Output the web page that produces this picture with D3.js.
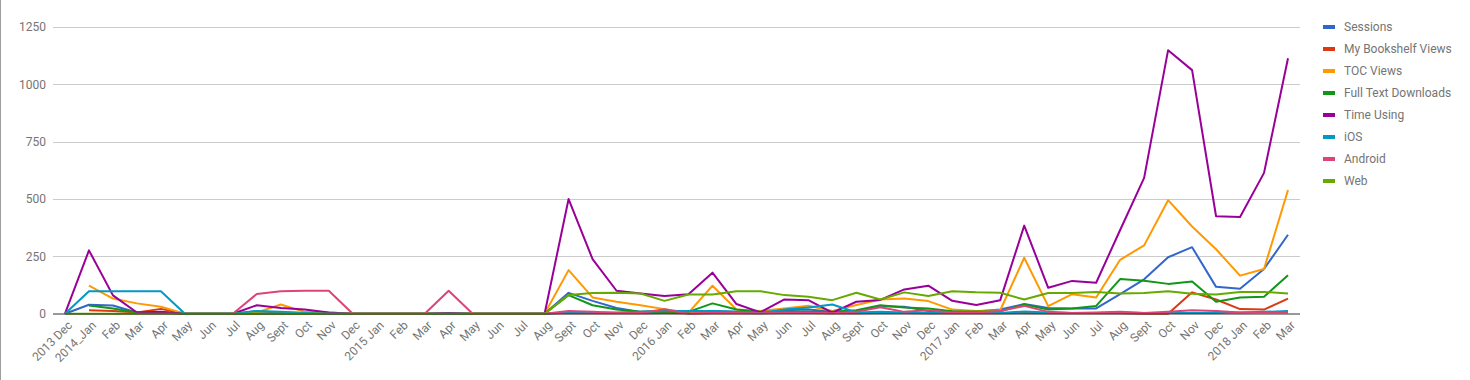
<!DOCTYPE html>
<html><head><meta charset="utf-8">
<script src="https://cdn.jsdelivr.net/npm/d3@7"></script>
<style>
html,body{margin:0;padding:0;background:#fff;}
svg{display:block;font-family:Roboto,Arial,sans-serif;}
</style></head>
<body><svg id="c" width="1470" height="380"></svg>
<script>
const categories = ["2013 Dec","2014_Jan","Feb","Mar","Apr","May","Jun","Jul","Aug","Sept","Oct","Nov","Dec",
"2015 Jan","Feb","Mar","Apr","May","Jun","Jul","Aug","Sept","Oct","Nov","Dec",
"2016 Jan","Feb","Mar","Apr","May","Jun","Jul","Aug","Sept","Oct","Nov","Dec",
"2017 Jan","Feb","Mar","Apr","May","Jun","Jul","Aug","Sept","Oct","Nov","Dec",
"2018 Jan","Feb","Mar"];

const seriesNames = ["Sessions","My Bookshelf Views","TOC Views","Full Text Downloads","Time Using","iOS","Android","Web"];
const seriesColors = ["#3366cc","#dc3912","#ff9900","#109618","#990099","#0099c6","#dd4477","#66aa00"];

const sessions = [0,39,36,5,5,0,0,0,11,5,3,0,0, 0,0,0,0,0,0,0,0,91,56,25,8, 12,12,12,8,5,15,18,8,12,33,30,12, 10,10,18,42,25,23,23,85,150,246,290,117, 109,195,344];
const bookshelf = [null,15,12,5,21,0,0,0,0,0,0,0,0, 0,0,0,0,0,0,0,0,3,2,2,2, 3,2,2,2,2,3,3,2,2,3,3,2, 2,2,2,3,2,2,2,2,0,0,93,62, 20,18,66];
const toc = [null,122,66,45,30,0,0,0,5,40,8,5,0, 0,0,0,0,0,0,0,0,190,71,52,37, 20,5,122,18,12,23,35,12,38,62,66,55, 18,12,15,244,33,85,71,235,298,495,380,281, 166,195,539];
const fullText = [null,36,23,5,5,0,0,0,0,0,0,0,0, 0,0,0,0,0,0,0,0,81,37,18,8, 10,8,45,18,8,8,8,8,15,37,27,23, 11,10,10,40,18,23,34,151,144,130,140,52, 71,74,168];
const timeUsing = [0,276,80,5,8,0,0,0,37,25,18,5,0, 0,0,0,3,0,0,0,0,500,238,100,88, 77,85,179,42,6,62,59,5,52,60,106,122, 56,38,59,384,113,143,135,365,592,1149,1062,425, 422,614,1114];
const ios = [0,98,98,98,98,0,0,0,12,8,3,0,0, 0,0,0,0,0,0,0,0,5,5,5,8, 12,12,12,8,3,18,27,40,5,8,5,3, 3,3,3,10,5,3,3,5,3,3,3,3, 5,8,12];
const android = [null,null,null,null,null,null,null,0,86,98,100,100,0, 0,0,0,100,0,0,0,0,12,8,3,3, 20,0,3,3,2,5,5,2,8,28,8,15, 5,5,12,34,8,3,5,8,3,8,15,12, 5,5,5];
const web = [0,0,0,0,0,0,0,0,0,0,0,0,0, 0,0,0,0,0,0,0,0,82,90,91,88, 56,84,84,98,98,81,74,59,91,62,93,77, 98,93,91,62,90,90,95,88,90,98,87,84, 95,95,88];

const yTicks = [0,250,500,750,1000,1250];

const seriesValues = [sessions,bookshelf,toc,fullText,timeUsing,ios,android,web];

const svg = d3.select("#c");
// frame line on left edge
svg.append("line").attr("x1",0.5).attr("x2",0.5).attr("y1",0).attr("y2",380).attr("stroke","#9e9e9e").attr("stroke-width",1);

const x = d3.scalePoint().domain(d3.range(categories.length)).range([53,1300]).padding(0.5);
const y = d3.scaleLinear().domain([0,1250]).range([313.7,27]);

// gridlines
svg.append("g").selectAll("line").data(yTicks.filter(d=>d>0)).join("line")
  .attr("x1",53).attr("x2",1300)
  .attr("y1",d=>Math.round(y(d))+0.5).attr("y2",d=>Math.round(y(d))+0.5)
  .attr("stroke","#cccccc").attr("stroke-width",1);

// y labels
svg.append("g").selectAll("text").data(yTicks).join("text")
  .attr("x",46).attr("y",d=>y(d)).attr("dy","0.35em")
  .attr("text-anchor","end").attr("font-size",12).attr("fill","#757575")
  .text(d=>d);

// lines
const line = d3.line().defined(d=>d[1]!=null).x(d=>x(d[0])).y(d=>y(d[1]));
seriesValues.forEach((vals,i)=>{
  svg.append("path").datum(vals.map((v,j)=>[j,v]))
    .attr("d",line).attr("fill","none")
    .attr("stroke",seriesColors[i]).attr("stroke-width",2)
    .attr("stroke-linejoin","round");
});

// baseline
svg.append("line").attr("x1",53).attr("x2",1300).attr("y1",314).attr("y2",314)
  .attr("stroke","#333333").attr("stroke-width",1);

// x labels
svg.append("g").selectAll("text").data(categories).join("text")
  .attr("transform",(d,i)=>`translate(${x(i)+5},${323}) rotate(-45)`)
  .attr("text-anchor","end").attr("dy","0.35em")
  .attr("font-size",12).attr("fill","#757575")
  .text(d=>d);

// legend
const lg = svg.append("g").selectAll("g").data(seriesNames).join("g")
  .attr("transform",(d,i)=>`translate(1323,${27+22*i})`);
lg.append("rect").attr("x",0).attr("y",-2).attr("width",12).attr("height",4)
  .attr("fill",(d,i)=>seriesColors[i]);
lg.append("text").attr("x",21).attr("y",0).attr("dy","0.35em")
  .attr("font-size",12).attr("fill","#757575").text(d=>d);
</script>
</body></html>
